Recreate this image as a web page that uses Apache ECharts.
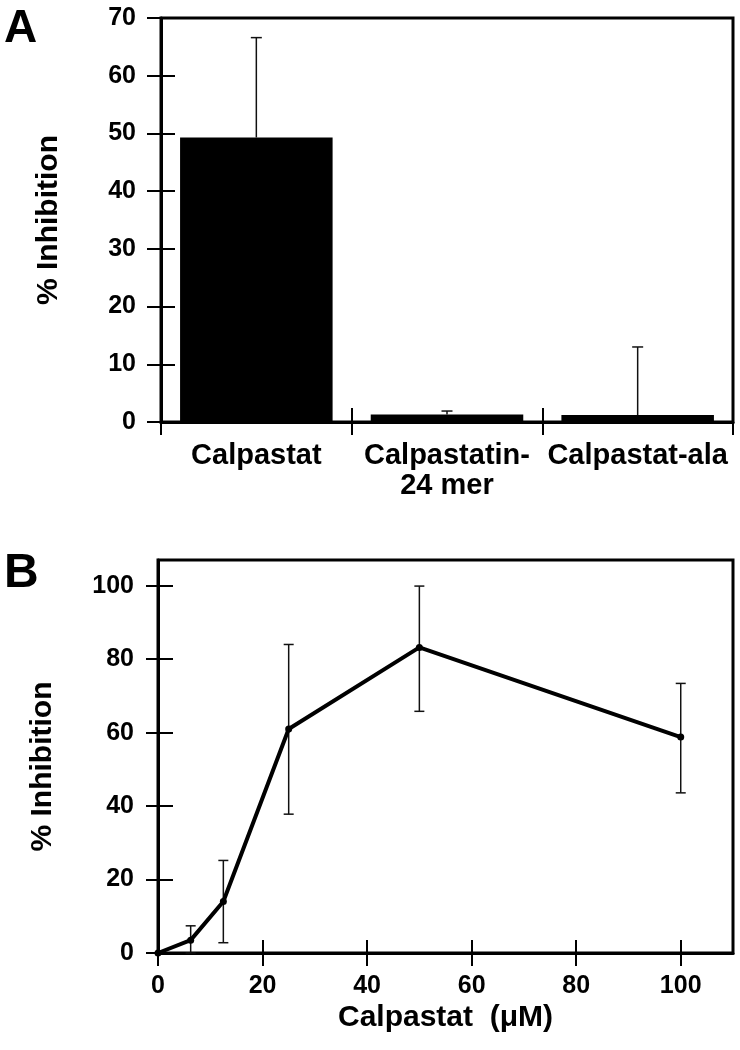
<!DOCTYPE html>
<html><head><meta charset="utf-8">
<script src="https://cdn.jsdelivr.net/npm/echarts@6/dist/echarts.min.js"></script>
<style>html,body{margin:0;padding:0;background:#fff}#c{width:740px;height:1050px}</style>
</head><body><div id="c"></div>
<script>
// ---- Panel A data ----
const categoriesA = ['Calpastat', 'Calpastatin-\n24 mer', 'Calpastat-ala'];
const valuesA = [49.3, 1.3, 1.2];
const errorTopA = [66.6, 1.9, 13.0];
const yTicksA = [0, 10, 20, 30, 40, 50, 60, 70];

// ---- Panel B data ----
const concB = [0, 6.25, 12.5, 25, 50, 100];
const inhibB = [0, 3.5, 14, 61, 83.2, 58.8];
const errLowB = [0, 0, 2.8, 37.8, 65.8, 43.6];
const errHighB = [0, 7.4, 25.2, 84, 99.9, 73.4];
const xTicksB = [0, 20, 40, 60, 80, 100];
const yTicksB = [0, 20, 40, 60, 80, 100];

const FONT = '"Liberation Sans", Arial, Helvetica, sans-serif';
const BLACK = '#000';

const chart = echarts.init(document.getElementById('c'), null, {renderer: 'canvas'});

function errRender(capHalf, lowerCap) {
  return function (params, api) {
    const x = api.value(0), lo = api.value(1), hi = api.value(2);
    const pHi = api.coord([x, hi]);
    const pLo = api.coord([x, lo]);
    const st = {stroke: '#111', lineWidth: 1.5};
    const children = [
      {type: 'line', shape: {x1: pHi[0], y1: pHi[1], x2: pLo[0], y2: pLo[1]}, style: st},
      {type: 'line', shape: {x1: pHi[0] - capHalf, y1: pHi[1], x2: pHi[0] + capHalf, y2: pHi[1]}, style: st}
    ];
    if (lowerCap) {
      children.push({type: 'line', shape: {x1: pLo[0] - capHalf, y1: pLo[1], x2: pLo[0] + capHalf, y2: pLo[1]}, style: st});
    }
    return {type: 'group', children: children};
  };
}

const tickLabel = {fontFamily: FONT, fontWeight: 'bold', fontSize: 25, color: BLACK};
const nameStyle = {fontFamily: FONT, fontWeight: 'bold', fontSize: 30, color: BLACK};

const errA = valuesA.map((v, i) => [i, v, errorTopA[i]]);
const errB = concB.map((c, i) => [c, errLowB[i], errHighB[i]]).filter(d => d[2] > d[1]);
const lineB = concB.map((c, i) => [c, inhibB[i]]);

const option = {
  backgroundColor: '#fff',
  animation: false,
  graphic: [
    {type: 'text', left: 4, top: 6, style: {text: 'A', font: 'bold 46px ' + FONT, fill: BLACK}},
    {type: 'text', left: 4, top: 550, style: {text: 'B', font: 'bold 48px ' + FONT, fill: BLACK}}
  ],
  grid: [
    {left: 161, top: 18, width: 572, height: 404, show: true, borderColor: BLACK, borderWidth: 3, backgroundColor: 'transparent'},
    {left: 158, top: 560, width: 575, height: 393, show: true, borderColor: BLACK, borderWidth: 3, backgroundColor: 'transparent'}
  ],
  xAxis: [
    {gridIndex: 0, type: 'category', data: categoriesA, position: 'bottom',
     axisLine: {onZero: false, lineStyle: {color: BLACK, width: 3}},
     axisTick: {show: true, length: 13, lineStyle: {color: BLACK, width: 2}},
     axisLabel: {margin: 19, fontFamily: FONT, fontWeight: 'bold', fontSize: 29, color: BLACK, lineHeight: 30, interval: 0},
     splitLine: {show: false}},
    {gridIndex: 0, type: 'category', data: categoriesA, position: 'bottom',
     axisLine: {show: false, onZero: false},
     axisTick: {show: true, inside: true, length: 14, lineStyle: {color: BLACK, width: 2}},
     axisLabel: {show: false}, splitLine: {show: false}},
    {gridIndex: 1, type: 'value', min: 0, max: 110, position: 'bottom',
     axisLine: {onZero: false, lineStyle: {color: BLACK, width: 3}},
     axisTick: {show: true, length: 13, customValues: xTicksB, lineStyle: {color: BLACK, width: 2}},
     axisLabel: Object.assign({margin: 21, customValues: xTicksB}, tickLabel),
     splitLine: {show: false},
     name: 'Calpastat  (\u03bcM)', nameLocation: 'middle', nameGap: 50, nameTextStyle: nameStyle},
    {gridIndex: 1, type: 'value', min: 0, max: 110, position: 'bottom',
     axisLine: {show: false, onZero: false},
     axisTick: {show: true, inside: true, length: 13, customValues: xTicksB, lineStyle: {color: BLACK, width: 2}},
     axisLabel: {show: false, customValues: xTicksB}, splitLine: {show: false}}
  ],
  yAxis: [
    {gridIndex: 0, type: 'value', min: 0, max: 70, interval: 10, position: 'left',
     axisLine: {show: true, onZero: false, lineStyle: {color: BLACK, width: 3}},
     axisTick: {show: true, length: 14, customValues: yTicksA, lineStyle: {color: BLACK, width: 2}},
     axisLabel: Object.assign({margin: 25, customValues: yTicksA}, tickLabel),
     splitLine: {show: false},
     name: '% Inhibition', nameLocation: 'middle', nameGap: 97, nameTextStyle: nameStyle},
    {gridIndex: 0, type: 'value', min: 0, max: 70, interval: 10, position: 'left',
     axisLine: {show: false, onZero: false},
     axisTick: {show: true, inside: true, length: 14, customValues: yTicksA, lineStyle: {color: BLACK, width: 2}},
     axisLabel: {show: false, customValues: yTicksA}, splitLine: {show: false}},
    {gridIndex: 1, type: 'value', min: 0, max: 107, position: 'left',
     axisLine: {show: true, onZero: false, lineStyle: {color: BLACK, width: 3}},
     axisTick: {show: true, length: 12, customValues: yTicksB, lineStyle: {color: BLACK, width: 2}},
     axisLabel: Object.assign({margin: 24, customValues: yTicksB}, tickLabel),
     splitLine: {show: false},
     name: '% Inhibition', nameLocation: 'middle', nameGap: 100,
     nameTextStyle: Object.assign({padding: [0, 20, 0, 0]}, nameStyle)},
    {gridIndex: 1, type: 'value', min: 0, max: 107, position: 'left',
     axisLine: {show: false, onZero: false},
     axisTick: {show: true, inside: true, length: 15, customValues: yTicksB, lineStyle: {color: BLACK, width: 2}},
     axisLabel: {show: false, customValues: yTicksB}, splitLine: {show: false}}
  ],
  series: [
    {type: 'bar', xAxisIndex: 0, yAxisIndex: 0, data: valuesA, barWidth: '80%',
     itemStyle: {color: BLACK}, z: 2, silent: true},
    {type: 'custom', xAxisIndex: 0, yAxisIndex: 0, data: errA, renderItem: errRender(5.5, false), z: 3, silent: true},
    {type: 'custom', xAxisIndex: 2, yAxisIndex: 2, data: errB, renderItem: errRender(5, true), z: 2, silent: true},
    {type: 'line', xAxisIndex: 2, yAxisIndex: 2, data: lineB, symbol: 'circle', symbolSize: 7,
     itemStyle: {color: BLACK}, lineStyle: {color: BLACK, width: 4}, z: 4, silent: true}
  ]
};
chart.setOption(option);
</script>
</body></html>
